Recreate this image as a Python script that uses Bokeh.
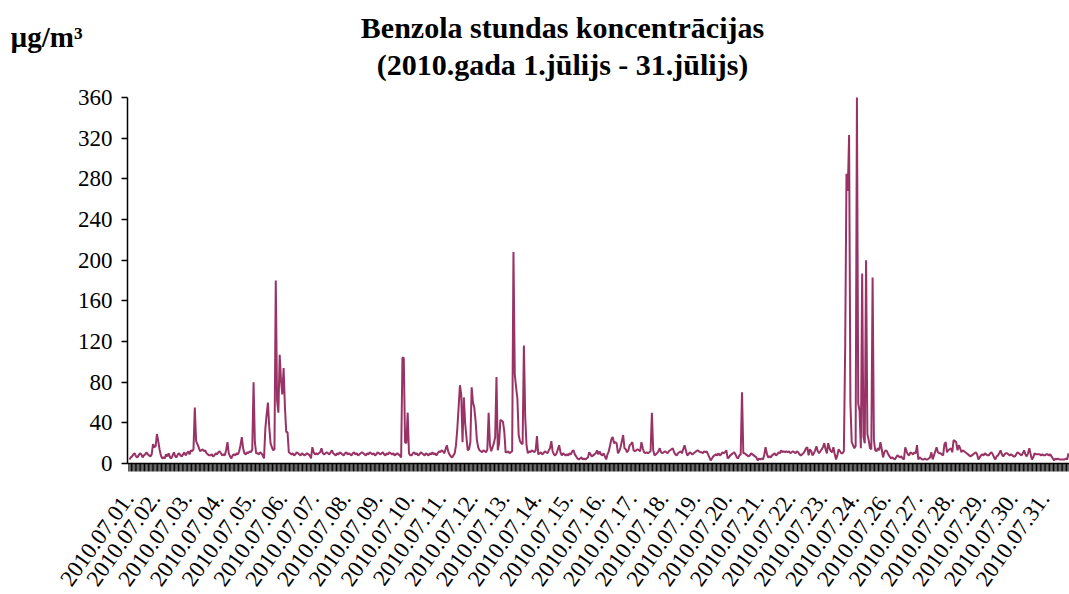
from bokeh.plotting import figure
from bokeh.models import Range1d, FixedTicker, Label
from bokeh.embed import file_html
from bokeh.resources import INLINE

# ---- data: hourly benzene concentration (µg/m3), one list per day ----
day_labels = ["2010.07.01.", "2010.07.02.", "2010.07.03.", "2010.07.04.", "2010.07.05.",
              "2010.07.06.", "2010.07.07.", "2010.07.08.", "2010.07.09.", "2010.07.10.",
              "2010.07.11.", "2010.07.12.", "2010.07.13.", "2010.07.14.", "2010.07.15.",
              "2010.07.16.", "2010.07.17.", "2010.07.18.", "2010.07.19.", "2010.07.20.",
              "2010.07.21.", "2010.07.22.", "2010.07.23.", "2010.07.24.", "2010.07.26.",
              "2010.07.27.", "2010.07.28.", "2010.07.29.", "2010.07.30.", "2010.07.31."]

d01 = [4, 6, 7, 9, 10, 7, 6, 8, 10, 9, 6, 8, 9, 11, 9, 8, 7, 9, 19, 16, 17, 29, 22, 14]
d02 = [8, 5, 6, 5, 9, 7, 10, 6, 5, 8, 11, 7, 6, 9, 10, 8, 7, 9, 11, 8, 10, 12, 9, 13]
d03 = [12, 14, 55, 22, 19, 16, 12, 13, 14, 12, 13, 10, 9, 8, 8, 9, 7, 8, 10, 9, 11, 12, 10, 8]
d04 = [9, 8, 13, 21, 10, 7, 5, 8, 9, 8, 10, 9, 12, 18, 26, 15, 10, 9, 11, 10, 12, 11, 14, 80]
d05 = [21, 10, 10, 9, 11, 10, 8, 5, 34, 48, 60, 36, 20, 16, 13, 14, 180, 62, 50, 107, 82, 68, 94, 56]
d06 = [31, 31, 11, 10, 9, 10, 8, 9, 11, 10, 9, 8, 10, 9, 8, 9, 10, 9, 8, 5, 16, 11, 9, 10]
d07 = [9, 10, 11, 15, 10, 9, 10, 11, 10, 9, 11, 13, 10, 9, 8, 10, 9, 11, 10, 9, 8, 10, 11, 9]
d08 = [10, 9, 8, 10, 11, 9, 10, 8, 9, 10, 11, 10, 9, 8, 10, 9, 11, 10, 9, 10, 8, 9, 11, 10]
d09 = [9, 10, 11, 9, 8, 10, 9, 11, 10, 9, 10, 8, 9, 10, 9, 8, 6, 104, 104, 21, 20, 50, 10, 8]
d10 = [8, 10, 11, 9, 10, 8, 9, 11, 10, 9, 8, 10, 9, 8, 10, 9, 11, 9, 10, 8, 10, 12, 11, 13]
d11 = [12, 10, 14, 18, 12, 9, 7, 6, 8, 10, 18, 34, 55, 77, 68, 21, 65, 40, 26, 13, 14, 21, 75, 60]
d12 = [55, 42, 23, 16, 13, 12, 11, 13, 12, 11, 14, 50, 18, 12, 16, 20, 26, 85, 13, 20, 43, 42, 41, 31]
d13 = [11, 11, 12, 10, 11, 12, 208, 88, 75, 64, 28, 22, 20, 19, 116, 46, 18, 10, 12, 11, 13, 12, 11, 13]
d14 = [27, 9, 10, 11, 9, 10, 12, 11, 10, 13, 15, 22, 12, 9, 8, 10, 14, 18, 11, 8, 10, 9, 8, 9]
d15 = [8, 10, 9, 12, 13, 9, 7, 5, 4, 5, 6, 4, 5, 4, 5, 6, 11, 9, 7, 8, 9, 10, 13, 9]
d16 = [12, 9, 8, 10, 7, 4, 9, 12, 18, 24, 26, 20, 21, 20, 10, 12, 16, 22, 28, 15, 14, 11, 13, 18]
d17 = [19, 21, 13, 12, 13, 14, 13, 12, 21, 15, 11, 10, 11, 10, 11, 12, 50, 13, 8, 9, 10, 12, 15, 11]
d18 = [10, 11, 12, 11, 10, 12, 13, 14, 15, 11, 9, 8, 10, 11, 12, 10, 14, 18, 13, 8, 9, 11, 10, 9]
d19 = [10, 11, 12, 13, 12, 11, 11, 10, 12, 11, 12, 9, 6, 3, 5, 7, 8, 9, 8, 10, 8, 9, 11, 10]
d20 = [11, 13, 5, 6, 8, 9, 10, 11, 9, 6, 5, 8, 9, 70, 10, 10, 9, 8, 7, 8, 10, 9, 8, 7]
d21 = [6, 3, 5, 4, 5, 4, 8, 16, 10, 6, 7, 6, 8, 9, 10, 8, 9, 11, 10, 13, 11, 12, 11, 12]
d22 = [11, 12, 10, 11, 12, 11, 10, 12, 11, 9, 8, 9, 10, 12, 15, 16, 8, 14, 12, 8, 10, 13, 17, 12]
d23 = [10, 12, 14, 16, 20, 14, 10, 20, 15, 12, 11, 16, 9, 4, 8, 14, 12, 10, 10, 12, 114, 285, 268, 323]
d24 = [60, 21, 18, 15, 17, 360, 59, 52, 15, 187, 26, 20, 200, 29, 23, 15, 14, 183, 23, 13, 12, 15, 13, 21]
d26 = [14, 6, 11, 13, 12, 9, 7, 5, 6, 5, 4, 6, 8, 7, 6, 7, 5, 4, 16, 12, 9, 8, 11, 10]
d27 = [9, 11, 10, 18, 4, 6, 5, 4, 4, 5, 4, 4, 5, 6, 11, 4, 8, 12, 16, 11, 10, 10, 9, 8]
d28 = [19, 21, 11, 13, 14, 15, 11, 23, 22, 21, 13, 18, 15, 11, 13, 12, 11, 10, 9, 8, 7, 8, 9, 10]
d29 = [11, 9, 4, 6, 8, 9, 8, 10, 9, 8, 8, 10, 11, 9, 6, 4, 7, 8, 10, 13, 9, 7, 9, 10]
d30 = [10, 9, 8, 9, 8, 7, 7, 9, 11, 10, 9, 8, 10, 13, 9, 7, 10, 15, 9, 4, 6, 10, 9, 9]
d31 = [9, 9, 8, 9, 8, 8, 9, 9, 8, 9, 7, 5, 3, 5, 4, 5, 4, 4, 4, 4, 4, 5, 4, 10]

days = [d01, d02, d03, d04, d05, d06, d07, d08, d09, d10, d11, d12, d13, d14, d15,
        d16, d17, d18, d19, d20, d21, d22, d23, d24, d26, d27, d28, d29, d30, d31]
y_ticks = [0, 40, 80, 120, 160, 200, 240, 280, 320, 360]
y_max = 360

title1 = "Benzola stundas koncentrācijas"
title2 = "(2010.gada 1.jūlijs - 31.jūlijs)"
unit = "µg/m³"

values = [v for d in days for v in d]
hours = list(range(len(values)))
n = len(values)

# ---- layout (page pixels); the frame covers the whole figure ----
W, H = 1069, 594
AXIS_X_PX = 127            # where the value axis sits on the page
FIRST_PT_PX = 129          # first hourly point
LAST_PT_PX = 1068          # last hourly point
ZERO_PY, TOP_PY = 463, 97  # page y of value 0 and of value 360
TICK_LEN_PX = 8            # length of the hourly category ticks

PX_PER_X = (LAST_PT_PX - FIRST_PT_PX) / (n - 1)
PX_PER_Y = (ZERO_PY - TOP_PY) / y_max
X0 = -FIRST_PT_PX / PX_PER_X
X1 = X0 + W / PX_PER_X
Y0 = -(H - ZERO_PY) / PX_PER_Y
Y1 = ZERO_PY / PX_PER_Y
AXIS_X = X0 + AXIS_X_PX / PX_PER_X


def dx(px):
    return X0 + px / PX_PER_X


def dy(py):
    return (ZERO_PY - py) / PX_PER_Y


p = figure(width=W, height=H, output_backend="svg", toolbar_location=None,
           x_range=Range1d(X0, X1), y_range=Range1d(Y0, Y1),
           min_border_left=0, min_border_right=0, min_border_top=0,
           min_border_bottom=0)
p.outline_line_color = None
p.xgrid.visible = False
p.ygrid.visible = False
p.background_fill_color = "white"
p.border_fill_color = "white"

p.line(hours, values, line_color="#993366", line_width=2)

# hourly category tick marks under the axis (one between every two hours)
hour_ticks = [k - 0.5 for k in range(n + 1)]
p.segment(x0=hour_ticks, y0=[0] * len(hour_ticks),
          x1=hour_ticks, y1=[-TICK_LEN_PX / PX_PER_Y] * len(hour_ticks),
          line_color="black", line_width=1, level="overlay")

SERIF = "Liberation Serif"

# y axis, pinned at the left edge of the data area
p.yaxis.fixed_location = AXIS_X
p.yaxis.bounds = (0, y_max)
p.yaxis.ticker = FixedTicker(ticks=y_ticks)
p.yaxis.major_label_text_font = SERIF
p.yaxis.major_label_text_font_size = "23px"
p.yaxis.major_label_text_color = "black"
p.yaxis.major_tick_out = 6
p.yaxis.major_tick_in = 0
p.yaxis.minor_tick_line_color = None
p.yaxis.major_label_standoff = 9
p.yaxis.axis_line_color = "black"
p.yaxis.axis_line_width = 1.5
p.yaxis.major_tick_line_color = "black"
p.yaxis.major_tick_line_width = 1.5

# x axis pinned at value 0: axis line and one label per day
label_step = 24.32
label_pos = [max(-0.5, -4.6 + label_step * i) for i in range(len(day_labels))]
p.xaxis.fixed_location = 0
p.xaxis.bounds = (AXIS_X, X1)
p.xaxis.ticker = FixedTicker(ticks=label_pos)
p.xaxis.major_label_overrides = {t: lab for t, lab in zip(label_pos, day_labels)}
p.xaxis.major_label_orientation = 0.95
p.xaxis.major_label_text_font = SERIF
p.xaxis.major_label_text_font_size = "23px"
p.xaxis.major_label_text_color = "black"
p.xaxis.major_label_standoff = 23
p.xaxis.major_tick_line_color = None
p.xaxis.major_tick_out = 8
p.xaxis.major_tick_in = 0
p.xaxis.minor_tick_line_color = None
p.xaxis.axis_line_color = "black"
p.xaxis.axis_line_width = 1.5

# ---- titles and unit ----
p.add_layout(Label(x=dx(562), y=dy(27), text=title1, text_font=SERIF,
                   text_font_style="bold", text_font_size="30px",
                   text_align="center", text_baseline="alphabetic", text_color="black"))
p.add_layout(Label(x=dx(562), y=dy(64), text=title2, text_font=SERIF,
                   text_font_style="bold", text_font_size="30px",
                   text_align="center", text_baseline="alphabetic", text_color="black"))
p.add_layout(Label(x=dx(10), y=dy(36), text=unit, text_font=SERIF,
                   text_font_style="bold", text_font_size="29px",
                   text_align="left", text_baseline="alphabetic", text_color="black"))

open("out.html", "w").write(file_html(p, INLINE))
